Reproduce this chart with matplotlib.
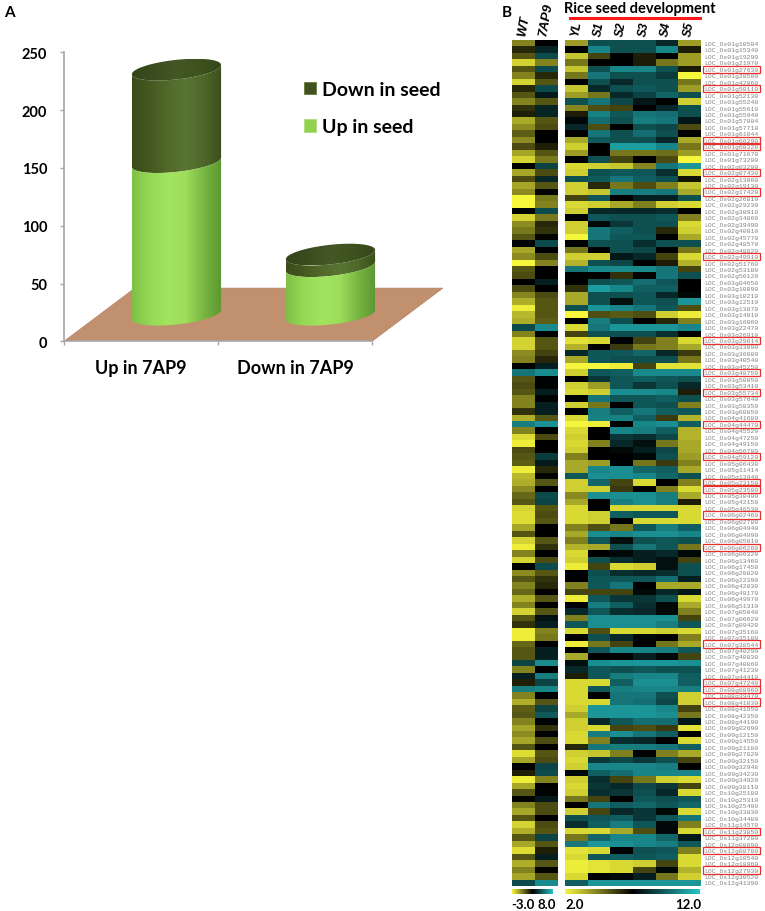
import numpy as np
import matplotlib
matplotlib.use('Agg')
import matplotlib.pyplot as plt
from matplotlib.colors import LinearSegmentedColormap, Normalize
from matplotlib.patches import Polygon, Patch
from matplotlib.lines import Line2D
from matplotlib.cm import ScalarMappable

plt.rcParams['font.family'] = ['Lato', 'DejaVu Sans']

# ---------------- Panel A data ----------------
groups = ['Up in 7AP9', 'Down in 7AP9']
up_in_seed = [132, 42]
down_in_seed = [80, 10]
series_labels = ['Down in seed', 'Up in seed']
yticks_a = [0, 50, 100, 150, 200, 250]

# ---------------- Panel B data ----------------
expr_cols = ['WT', '7AP9']
dev_cols = ['YL', 'S1', 'S2', 'S3', 'S4', 'S5']
dev_title = 'Rice seed development'
range_left = (-3.0, 8.0)
range_right = (2.0, 12.0)

genes = [
    'LOC_Os01g10504', 'LOC_Os01g15340', 'LOC_Os01g19290', 'LOC_Os01g21970', 'LOC_Os01g27630',
    'LOC_Os01g28500', 'LOC_Os01g42060', 'LOC_Os01g50110', 'LOC_Os01g52130', 'LOC_Os01g55240',
    'LOC_Os01g55610', 'LOC_Os01g55940', 'LOC_Os01g57004', 'LOC_Os01g57710', 'LOC_Os01g61044',
    'LOC_Os01g66290', 'LOC_Os01g68320', 'LOC_Os01g71670', 'LOC_Os01g73200', 'LOC_Os02g03200',
    'LOC_Os02g07430', 'LOC_Os02g13060', 'LOC_Os02g19130', 'LOC_Os02g17420', 'LOC_Os02g26810',
    'LOC_Os02g29230', 'LOC_Os02g30910', 'LOC_Os02g34860', 'LOC_Os02g39490', 'LOC_Os02g40010',
    'LOC_Os02g45770', 'LOC_Os02g48570', 'LOC_Os02g48820', 'LOC_Os02g49910', 'LOC_Os02g51760',
    'LOC_Os02g53180', 'LOC_Os02g56120', 'LOC_Os03g04650', 'LOC_Os03g10090', 'LOC_Os03g10210',
    'LOC_Os03g12510', 'LOC_Os03g13870', 'LOC_Os03g14010', 'LOC_Os03g16060', 'LOC_Os03g22470',
    'LOC_Os03g26910', 'LOC_Os03g29614', 'LOC_Os03g33090', 'LOC_Os03g36080', 'LOC_Os03g40540',
    'LOC_Os03g45250', 'LOC_Os03g48750', 'LOC_Os03g50050', 'LOC_Os03g53410', 'LOC_Os03g55734',
    'LOC_Os03g57640', 'LOC_Os03g58350', 'LOC_Os03g60850', 'LOC_Os04g41680', 'LOC_Os04g44470',
    'LOC_Os04g45520', 'LOC_Os04g47250', 'LOC_Os04g49150', 'LOC_Os04g56700', 'LOC_Os04g59120',
    'LOC_Os05g06430', 'LOC_Os05g11414', 'LOC_Os05g13940', 'LOC_Os05g23150', 'LOC_Os05g23500',
    'LOC_Os05g30400', 'LOC_Os05g42150', 'LOC_Os05g46530', 'LOC_Os06g02460', 'LOC_Os06g02780',
    'LOC_Os06g04940', 'LOC_Os06g04990', 'LOC_Os06g05010', 'LOC_Os06g06260', 'LOC_Os06g06320',
    'LOC_Os06g13460', 'LOC_Os06g17450', 'LOC_Os06g20820', 'LOC_Os06g22390', 'LOC_Os06g42030',
    'LOC_Os06g48170', 'LOC_Os06g49970', 'LOC_Os06g51310', 'LOC_Os07g05040', 'LOC_Os07g06620',
    'LOC_Os07g09420', 'LOC_Os07g35160', 'LOC_Os07g35180', 'LOC_Os07g38544', 'LOC_Os07g40290',
    'LOC_Os07g40830', 'LOC_Os07g40860', 'LOC_Os07g41230', 'LOC_Os07g44410', 'LOC_Os07g47240',
    'LOC_Os08g08960', 'LOC_Os08g39470', 'LOC_Os08g41030', 'LOC_Os08g41950', 'LOC_Os08g42350',
    'LOC_Os08g44190', 'LOC_Os09g02690', 'LOC_Os09g12150', 'LOC_Os09g14550', 'LOC_Os09g21180',
    'LOC_Os09g27820', 'LOC_Os09g32150', 'LOC_Os09g32948', 'LOC_Os09g34230', 'LOC_Os09g34920',
    'LOC_Os09g38110', 'LOC_Os10g25180', 'LOC_Os10g25310', 'LOC_Os10g25400', 'LOC_Os10g33830',
    'LOC_Os10g34480', 'LOC_Os11g14570', 'LOC_Os11g23850', 'LOC_Os11g37200', 'LOC_Os12g08090',
    'LOC_Os12g08780', 'LOC_Os12g10540', 'LOC_Os12g18960', 'LOC_Os12g27930', 'LOC_Os12g30520',
    'LOC_Os12g41390',
]

boxed_genes = [
    'LOC_Os01g27630', 'LOC_Os01g50110', 'LOC_Os01g66290', 'LOC_Os01g68320', 'LOC_Os02g07430',
    'LOC_Os02g17420', 'LOC_Os02g49910', 'LOC_Os03g29614', 'LOC_Os03g48750', 'LOC_Os03g55734',
    'LOC_Os04g44470', 'LOC_Os04g59120', 'LOC_Os05g23150', 'LOC_Os05g23500', 'LOC_Os06g02460',
    'LOC_Os06g06260', 'LOC_Os07g38544', 'LOC_Os07g47240', 'LOC_Os08g08960', 'LOC_Os08g41030',
    'LOC_Os11g23850', 'LOC_Os12g08780', 'LOC_Os12g27930',
]

wt = [-0.4, 1.6, 0.6, -2.2, 0.6, -0.4, -2.2, 1.6, 0.6, -0.4,
      1.4, 1.8, -1.3, -0.6, 0.4, -0.6, 0.8, -1.2, -2.2, 2.5,
      -1.2, 0.8, -1.2, -0.6, -3, -3, 2.6, -2.2, -0.6, -0.2,
      0.6, 2.6, -1.2, -0.6, -3, 0.6, 0.8, 2.5, 0.8, -0.5,
      -1.4, -2.8, -1.6, -1.4, 4.6, -0.4, -2.2, -2.2, -0.6, -0.4,
      2.5, 5.8, 0.6, 0.8, 0.6, -0.4, -0.4, 1.4, -1.4, 6,
      -0.4, -2.4, -2.8, 0.8, 0.6, 0.4, -2.8, -1.6, -1.4, -0.6,
      0.2, 0.6, -2.2, -2.4, -2.4, -1.2, 0.6, -2.2, -2.8, -0.4,
      -2.2, 2.6, -0.6, 0.6, -0.4, 0.2, -1.4, -0.4, -2.2, 0.6,
      1.4, -2.8, -2.8, 0.2, 0.6, 0.6, 4.4, -0.4, 3.4, 1.8,
      6, -0.4, -1.4, 0.4, 0.6, -0.4, -1.2, -0.6, -1.2, 0.6,
      -2.4, -1.2, 2.5, 1.8, -2.8, -1.2, 0.6, 2.4, -0.4, -1.2,
      0.6, -2.2, -1.4, 0.6, -1.2, -2.4, 0.6, -1.4, -0.4, -1.2, 4.6]
ap9 = [2.5, 3.5, 4.6, -0.4, 4.6, 1.6, 0.6, 4.6, 3.2, 0.6,
       3.5, 3.5, 0.6, 0.8, 2.5, 2.5, 1.8, 0.6, -0.2, 4.4,
       0.8, 3.6, 0.6, 2.4, -0.2, -0.4, 4.6, -0.2, 1.6, 1.4,
       2.4, 4.6, 2.5, 0.8, -0.4, 2.5, 2.5, 3.4, 2.5, 0.8,
       0.6, 0.6, 0.6, 0.4, 6.4, 2.6, 0.6, 0.6, 1, 1.6,
       3.4, 6.4, 2.6, 2.6, 3.4, 2.6, 3.4, 3.4, 0.6, 6.6,
       2.6, 0.8, 2.5, 2.5, 4.2, 3.2, 1.6, 2.4, 0.6, 2.5,
       4.6, 4.4, 0.6, 0.8, 0.6, 2.5, 2.5, 0.6, 1.4, 2.5,
       0.8, 4.6, 0.6, 1.4, 1.6, 2.5, 0.6, 2.5, 0.6, 3,
       3.4, -0.4, -0.2, 2.5, 3.4, 3.4, 6.4, 2.5, 6, 4.4,
       6.2, 2.5, 0.6, 4.4, 5, 2.6, 1.4, 2.6, 0.8, 2.5,
       0.6, 0.8, 4.4, 4.6, -0.4, 2.5, 2.6, 3.2, 0.8, 0.8,
       2.5, 0.8, 0.6, 4.4, 0.6, 1.8, 3.4, 0.6, 2.4, 0.6, 6.4]
yl = [3.8, 7, 3, 4.6, 3, 4.6, 7, 3, 3.8, 9,
      4.3, 6.4, 7.2, 8, 7, 3.6, 2.8, 3.8, 7, 2.6,
      2.8, 9, 2.8, 2.8, 5.6, 2.6, 2.8, 7, 2.8, 2.8,
      2, 7, 4.6, 2.8, 3.4, 10, 7, 7, 6, 3.6,
      3.6, 9, 2, 7, 2.6, 5.6, 2.4, 3.4, 8, 3.6,
      2, 2.8, 7, 2.8, 2.6, 7, 2.8, 7, 2.6, 2,
      2.6, 2.8, 2.6, 2.8, 4.4, 3.6, 3.6, 9.2, 2.8, 2.8,
      4.2, 3.6, 2.6, 2.6, 2.6, 4.4, 3.6, 4.4, 3.4, 2.6,
      2.8, 2.2, 7, 7, 4.4, 5.6, 2.2, 7, 8, 4.4,
      9.2, 2.6, 7, 2.2, 7, 3.6, 7.4, 8, 6.4, 2.6,
      2.6, 2.6, 2.6, 2.8, 3.6, 2.8, 2.8, 2.6, 2.6, 6.2,
      2.8, 2.6, 2.8, 7.2, 2.8, 2.6, 2.8, 4.6, 7, 2.8,
      9, 8.2, 2.6, 4.6, 10, 2.4, 2.6, 2.2, 2.2, 2.6, 9.4]
s1 = [9, 10.4, 5.6, 7, 9, 10, 9, 8, 4.6, 10,
      5.4, 10.3, 9.8, 5.4, 10, 9.3, 7, 7, 9, 2.8,
      9, 9.3, 6.2, 3, 9.2, 2.8, 8, 9.2, 7.2, 10,
      10, 9, 7, 2.8, 9, 10.5, 7, 9, 11, 9,
      9, 10.8, 5.4, 10.2, 10, 9, 2.6, 7, 9.2, 9.2,
      2, 9.2, 8.4, 3.8, 2.8, 10, 4.6, 10.2, 10.3, 2.2,
      7, 7, 4.4, 7, 7, 3.8, 10.4, 10.6, 9.6, 2.8,
      10.6, 7, 7, 2.8, 2.8, 5.4, 10.6, 9.2, 3.6, 7,
      9, 5.6, 9, 9.2, 9.2, 5.6, 9.2, 10.2, 9.2, 10.6,
      10.6, 5.4, 9, 4.6, 9.2, 7, 10.6, 9.2, 9.2, 2.6,
      9.2, 7, 2.6, 10.8, 10.8, 8, 2.6, 10.2, 4.4, 10,
      3, 8.4, 10.4, 9.4, 8.2, 8.4, 8.2, 5.6, 10, 5.6,
      9.2, 9.4, 2.6, 9.6, 10.8, 2.6, 9.2, 2.4, 2.4, 7, 10.8]
s2 = [9, 9, 7, 7, 10.4, 9, 8, 9, 8, 8.8,
      5.6, 9.2, 9, 7, 9, 9, 11, 4.6, 5.6, 3,
      9.3, 10, 4.6, 10.2, 7, 3.6, 8, 9, 8.4, 9.4,
      9.2, 9, 9, 7.6, 8.8, 10.5, 6, 9.2, 10.4, 9,
      7.4, 10.4, 5.2, 9, 10.8, 9, 7, 5.8, 9.2, 9,
      2.2, 9.4, 9.2, 9.2, 10.6, 9.2, 7, 9.4, 10.3, 7,
      10.4, 8.4, 8, 7.2, 7, 7, 10.6, 10.6, 5.6, 5.8,
      10.6, 10.2, 2.6, 9.4, 7, 4.6, 10.4, 7.4, 9, 7.2,
      8.2, 2.6, 8.2, 9.2, 10, 5.6, 8.4, 9.4, 8.2, 10.6,
      10.6, 2.6, 8, 5.6, 10.4, 7, 10.8, 9, 10.2, 9.4,
      10.2, 10, 10, 10.8, 10.8, 9.2, 5.6, 10.6, 8.2, 10.2,
      4.4, 8.8, 10.4, 9.8, 5.6, 8, 8.4, 7, 9.4, 8,
      9.4, 10.2, 3.6, 10.4, 10.6, 7, 9.4, 2.6, 2.6, 7.2, 10.8]
s3 = [9, 9, 6.4, 6.4, 10.4, 9, 9, 9.3, 8.7, 7.6,
      7, 10, 10.2, 9, 9.8, 9, 11, 4.6, 7, 4.3,
      9.2, 9.4, 5.4, 10.2, 7.8, 4.4, 8, 9, 9, 9,
      9.2, 8.2, 8.8, 8, 7, 10.5, 7, 9.8, 9.4, 9.2,
      9.2, 10, 5.4, 7, 10.8, 9, 5.6, 4.6, 9.6, 9,
      5.6, 10.5, 9.4, 8.4, 10.6, 9.2, 9.2, 10, 9.4, 10.4,
      10.2, 8.2, 7.4, 7.8, 7.2, 4.6, 9.6, 10.4, 2.6, 7,
      10.6, 10.6, 2.6, 9.2, 2.6, 9.2, 10.6, 9, 10, 7.8,
      7.8, 2.8, 8, 9.2, 7, 7.2, 8.4, 8.2, 8, 10.6,
      10.6, 2.6, 7.2, 7, 10.4, 7.8, 10.8, 9.2, 10.4, 10.6,
      10.4, 10, 9.8, 10.8, 10.8, 9.8, 5.4, 10, 8, 10.2,
      7, 8.4, 10.4, 10.4, 4.6, 8.8, 9, 9.2, 9.6, 8.4,
      8.4, 9.2, 5.4, 10.4, 10.4, 9, 9.2, 2.8, 5.6, 7.8, 10.8]
s4 = [8, 10.4, 7, 4.6, 9, 8.5, 9, 9, 9.5, 7,
      8, 9.8, 10, 8.8, 9, 8, 10.4, 4.8, 5.5, 10,
      8.2, 9, 4.4, 10, 7.8, 2.8, 8.2, 9.2, 9, 6.2,
      7, 9, 7, 5.6, 6.4, 10, 10, 9.2, 9.4, 8,
      9, 9.2, 2.8, 6.2, 10.8, 8.2, 4.4, 4.4, 8, 9,
      2.4, 10.5, 9.2, 9, 10.4, 9.4, 9, 9.4, 5.8, 10.6,
      9.4, 8.8, 4.6, 8.8, 9, 5.8, 9.4, 9.6, 7, 4.4,
      10.2, 10.2, 2.6, 9.2, 2.6, 10.2, 10.6, 9.2, 9.2, 8,
      7.4, 7.4, 8.2, 9.8, 3.6, 8, 9, 7.2, 7.2, 10.6,
      10.2, 2.8, 7, 4.6, 10.2, 7.2, 10.8, 9, 10.4, 10.6,
      10.4, 9, 8.8, 10.4, 10.6, 9.8, 5.8, 9.4, 7, 10,
      4.4, 9, 10.2, 10.4, 2.8, 8.4, 8, 9, 9.2, 7.2,
      9.2, 7.2, 7.2, 9.6, 10.2, 9.2, 9.4, 5.6, 7.2, 4.6, 10.8]
s5 = [3.8, 6.4, 3.8, 3.8, 6.4, 2, 4.6, 3.8, 9, 2.8,
      9, 9, 7.6, 5.5, 7, 3.6, 4.6, 3.8, 2, 10.8,
      2.6, 6.6, 3, 3.6, 9, 2.6, 7, 4.4, 2.6, 2.8,
      3.6, 9, 4.6, 2.6, 3.4, 5.6, 9, 7, 7, 7.2,
      10.8, 5.4, 2.2, 4.4, 10.4, 7, 2.6, 3.6, 5.8, 4.6,
      2.4, 10.5, 9, 8, 6.4, 9, 4.4, 9.2, 3.4, 9.4,
      3.4, 3.4, 3.6, 3.6, 3.8, 4.4, 3.6, 9, 4.4, 2.6,
      3.6, 6.4, 2.6, 2.6, 2.6, 9.4, 10.4, 9, 4.6, 7.2,
      5.6, 9, 9, 7.8, 3.6, 7.6, 2.6, 3.6, 4.4, 5.6,
      9.2, 2.6, 4.4, 3.6, 9.2, 5.6, 10.6, 9, 9.4, 9.4,
      10.2, 2.8, 2.8, 5.6, 4.6, 7.6, 2.4, 7, 2.6, 9.4,
      3.6, 5.6, 7, 10.4, 2.6, 5.6, 2.6, 9.2, 9.6, 2.6,
      10, 4.4, 2.6, 7.6, 9.2, 4.4, 2.6, 2.6, 3.4, 2.8, 10.8]

# ---------------- Figure ----------------
W, H = 765, 912
fig = plt.figure(figsize=(W / 100, H / 100), dpi=100)
fig.patch.set_facecolor('white')


def fx(px):
    return px / W


def fy(py):
    return 1 - py / H


# ---------------- Panel A ----------------
px_per_cat = 154.0
px_per_unit = 1.156
x0_px, y0_px = 64.0, 342.3
xlim_a = (-0.5, 2.05)
ylim_a = (0, 262)
axA = fig.add_axes([fx(x0_px), fy(y0_px),
                    (xlim_a[1] - xlim_a[0]) * px_per_cat / W,
                    (ylim_a[1] - ylim_a[0]) * px_per_unit / H])

depth_x = 0.46
depth_y = 46.0
floor = Polygon([(-0.5, 0), (1.5, 0), (1.5 + depth_x, depth_y), (-0.5 + depth_x, depth_y)],
                closed=True, facecolor='#c1916f', edgecolor='#b08060', lw=0.5, zorder=1)
axA.add_patch(floor)

half_w = 0.29
ell_b = 8.5
shear = 14.0

cm_light = LinearSegmentedColormap.from_list('light', ['#7fc045', '#96d956', '#a2e45f', '#9ddd5a', '#78b642', '#5c9632'])
cm_dark = LinearSegmentedColormap.from_list('dark', ['#394b1b', '#44591f', '#52692b', '#5a7532', '#4f672a', '#3a4e1c'])
cm_top = LinearSegmentedColormap.from_list('top', ['#34451a', '#3b4d1e', '#445826', '#3e521f', '#34461a'])
grad = np.linspace(0, 1, 256).reshape(1, -1)


def arc(cx, cy, t0, t1, n=80):
    t = np.linspace(t0, t1, n)
    x = cx + half_w * np.cos(t)
    y = cy + ell_b * np.sin(t) + shear * half_w * np.cos(t)
    return np.column_stack([x, y])


def shaded(xy, cmap, z):
    poly = Polygon(xy, closed=True, facecolor='none', edgecolor='none', transform=axA.transData)
    xmin, xmax = xy[:, 0].min(), xy[:, 0].max()
    ymin, ymax = xy[:, 1].min(), xy[:, 1].max()
    im = axA.imshow(grad, cmap=cmap, extent=[xmin, xmax, ymin, ymax], aspect='auto',
                    interpolation='bicubic', zorder=z)
    im.set_clip_path(poly)


for i, (u, d) in enumerate(zip(up_in_seed, down_in_seed)):
    cx = i + depth_x / 2
    yb = depth_y / 2
    body_dark = np.vstack([arc(cx, yb + u, np.pi, 2 * np.pi), arc(cx, yb + u + d, 2 * np.pi, np.pi)])
    body_light = np.vstack([arc(cx, yb, np.pi, 2 * np.pi), arc(cx, yb + u, 2 * np.pi, np.pi)])
    top = arc(cx, yb + u + d, 0, 2 * np.pi)
    shaded(body_dark, cm_dark, 3)
    shaded(body_light, cm_light, 4)
    shaded(top, cm_top, 5)

axA.set_xlim(*xlim_a)
axA.set_ylim(*ylim_a)
for s in ['top', 'right']:
    axA.spines[s].set_visible(False)
for s in ['left', 'bottom']:
    axA.spines[s].set_color('#a6a6a6')
    axA.spines[s].set_linewidth(1.2)
axA.spines['left'].set_bounds(0, 250)
axA.spines['bottom'].set_bounds(-0.5, 1.5)
axA.set_yticks(yticks_a)
axA.set_yticklabels([str(v) for v in yticks_a], fontsize=10.5, fontweight='bold')
axA.tick_params(axis='y', length=3, width=1, color='#a6a6a6', pad=9)
axA.set_xticks([-0.5, 0.5, 1.5])
axA.set_xticklabels(['', '', ''])
axA.tick_params(axis='x', which='major', length=3, width=1, color='#a6a6a6', direction='out')
axA.set_xticks([0, 1], minor=True)
axA.set_xticklabels(groups, minor=True, fontsize=13, fontweight='bold')
axA.tick_params(axis='x', which='minor', length=0, pad=13)
axA.patch.set_alpha(0)

handles = [Patch(facecolor='#3f521e', edgecolor='#5a7030', lw=0.5),
           Patch(facecolor='#92d050', edgecolor='#a8dc70', lw=0.5)]
fig.legend(handles, series_labels, loc='upper left', bbox_to_anchor=(fx(304), fy(82)),
           frameon=False, prop={'weight': 'bold', 'size': 14}, handlelength=0.6,
           handleheight=0.6, handletextpad=0.3, labelspacing=1.05, borderpad=0, borderaxespad=0)

fig.text(fx(4), fy(13), 'A', fontsize=11, fontweight='bold', va='center', ha='left')
fig.text(fx(502), fy(13), 'B', fontsize=11, fontweight='bold', va='center', ha='left')

# ---------------- Panel B ----------------
cmap_hm = LinearSegmentedColormap.from_list('ybc', ['#f6f63c', '#000000', '#24c4c8'])
top_px, bot_px = 40.7, 886.7
axL = fig.add_axes([fx(512), fy(bot_px), (557.5 - 512) / W, (bot_px - top_px) / H])
axR = fig.add_axes([fx(565), fy(bot_px), (700 - 565) / W, (bot_px - top_px) / H])

left_data = np.column_stack([wt, ap9])
right_data = np.column_stack([yl, s1, s2, s3, s4, s5])
axL.imshow(left_data, cmap=cmap_hm, vmin=range_left[0], vmax=range_left[1],
           aspect='auto', interpolation='nearest')
axR.imshow(right_data, cmap=cmap_hm, vmin=range_right[0], vmax=range_right[1],
           aspect='auto', interpolation='nearest')

for ax, labels in [(axL, expr_cols), (axR, dev_cols)]:
    for s in ax.spines.values():
        s.set_visible(False)
    ax.xaxis.tick_top()
    ax.set_xticks(np.arange(len(labels)))
    ax.set_xticklabels(labels, rotation=80, fontweight='bold', fontstyle='italic',
                       family=['Liberation Sans', 'DejaVu Sans'],
                       fontsize=9.5 if ax is axL else 8.5)
    ax.tick_params(axis='x', length=0, pad=2)

axL.set_yticks([])
axR.yaxis.tick_right()
axR.set_yticks(np.arange(len(genes)))
axR.set_yticklabels(genes, fontsize=4.6, color='#808080', family=['Liberation Mono', 'DejaVu Sans Mono'])
axR.tick_params(axis='y', length=0, pad=3)
for lbl in axR.get_yticklabels():
    if lbl.get_text() in boxed_genes:
        lbl.set_bbox(dict(boxstyle='square,pad=0.18', facecolor='none', edgecolor='#e8302a', lw=0.9))

fig.text(fx(640), fy(9), dev_title, fontsize=10.5, fontweight='bold', ha='center', va='center')
fig.add_artist(Line2D([fx(570), fx(700)], [fy(19), fy(19)], color='#ff1a1a', lw=2.2))

caxL = fig.add_axes([fx(512), fy(894.5), (553 - 512) / W, 4.5 / H])
caxR = fig.add_axes([fx(565), fy(894.5), (700 - 565) / W, 4.5 / H])
for cax, rng in [(caxL, range_left), (caxR, range_right)]:
    cb = fig.colorbar(ScalarMappable(Normalize(*rng), cmap_hm), cax=cax, orientation='horizontal')
    cb.set_ticks([])
    cb.outline.set_visible(False)

fig.text(fx(511), fy(905), f'{range_left[0]:.1f}', fontsize=9.5, fontweight='bold', ha='left', va='center')
fig.text(fx(556), fy(905), f'{range_left[1]:.1f}', fontsize=9.5, fontweight='bold', ha='right', va='center')
fig.text(fx(565), fy(905), f'{range_right[0]:.1f}', fontsize=9.5, fontweight='bold', ha='left', va='center')
fig.text(fx(701), fy(905), f'{range_right[1]:.1f}', fontsize=9.5, fontweight='bold', ha='right', va='center')

fig.savefig('out.png', dpi=100, facecolor='white')
